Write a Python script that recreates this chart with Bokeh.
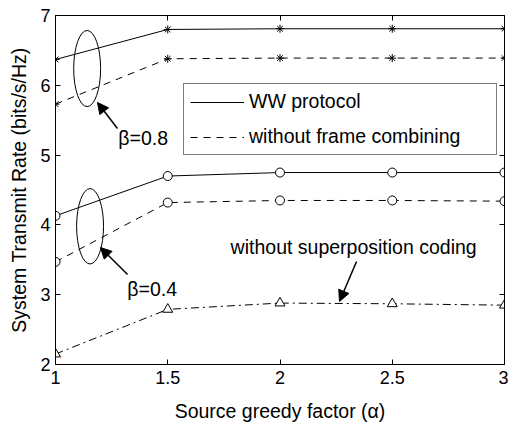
from bokeh.plotting import figure
from bokeh.models import (LinearAxis, Legend, LegendItem, Label, Arrow, NormalHead,
                          FixedTicker)
from bokeh.embed import file_html
from bokeh.resources import INLINE

# Source greedy factor values
alpha = [1.0, 1.5, 2.0, 2.5, 3.0]

# beta = 0.8
ww_b08 = [6.37, 6.80, 6.81, 6.81, 6.81]
nofc_b08 = [5.73, 6.38, 6.39, 6.39, 6.39]
# beta = 0.4
ww_b04 = [4.13, 4.70, 4.75, 4.75, 4.75]
nofc_b04 = [3.47, 4.32, 4.35, 4.35, 4.34]
# without superposition coding
nosc = [2.15, 2.79, 2.88, 2.87, 2.85]

x_ticks = [1, 1.5, 2, 2.5, 3]
y_ticks = [2, 3, 4, 5, 6, 7]

FONT = "Liberation Sans"
TICK_SIZE = "18px"
TEXT_SIZE = "19.5px"

p = figure(width=508, height=428, x_range=(1, 3), y_range=(2, 7),
           output_backend="svg", toolbar_location=None,
           min_border_left=55, min_border_right=4, min_border_top=15, min_border_bottom=64,
           frame_width=449, frame_height=349)
p.background_fill_color = "white"
p.border_fill_color = "white"
p.grid.visible = False
p.outline_line_color = "black"
p.outline_line_width = 1

def style_axis(ax):
    ax.major_tick_in = 5
    ax.major_tick_out = 0
    ax.minor_tick_in = 0
    ax.minor_tick_out = 0
    ax.axis_line_color = "black"
    ax.major_tick_line_color = "black"
    ax.major_label_text_font = FONT
    ax.major_label_text_font_size = TICK_SIZE
    ax.major_label_text_color = "black"
    ax.axis_label_text_font = FONT
    ax.axis_label_text_font_size = TEXT_SIZE
    ax.axis_label_text_font_style = "normal"
    ax.axis_label_text_color = "black"

p.xaxis.ticker = FixedTicker(ticks=x_ticks)
p.yaxis.ticker = FixedTicker(ticks=y_ticks)
for ax in p.xaxis + p.yaxis:
    style_axis(ax)
p.xaxis.axis_label = "Source greedy factor (α)"
p.yaxis.axis_label = "System Transmit Rate (bits/s/Hz)"
p.xaxis.major_label_standoff = 6
p.yaxis.major_label_standoff = 5
p.xaxis.axis_label_standoff = 13
p.yaxis.axis_label_standoff = 7

# mirrored tick marks on the top and right edges, without labels
top = LinearAxis(ticker=FixedTicker(ticks=x_ticks),
                 major_label_overrides={t: "" for t in x_ticks})
right = LinearAxis(ticker=FixedTicker(ticks=y_ticks),
                   major_label_overrides={t: "" for t in y_ticks})
for ax in (top, right):
    style_axis(ax)
    ax.major_label_standoff = 0
p.add_layout(top, "above")
p.add_layout(right, "right")

DASH = "7 6"
DASHDOT = "8 4 2 4"

r_ww = p.line(alpha, ww_b08, line_color="black", line_width=1)
p.scatter(alpha, ww_b08, marker="asterisk", size=8, line_color="black")
r_fc = p.line(alpha, nofc_b08, line_color="black", line_width=1, line_dash=DASH)
p.scatter(alpha, nofc_b08, marker="asterisk", size=8, line_color="black")

p.line(alpha, ww_b04, line_color="black", line_width=1)
p.scatter(alpha, ww_b04, marker="circle", size=9, line_color="black", fill_color="white")
p.line(alpha, nofc_b04, line_color="black", line_width=1, line_dash=DASH)
p.scatter(alpha, nofc_b04, marker="circle", size=9, line_color="black", fill_color="white")

p.line(alpha, nosc, line_color="black", line_width=1, line_dash=DASHDOT)
p.scatter(alpha, nosc, marker="triangle", size=10, line_color="black", fill_color="white")

# ellipses grouping the curves of each beta
p.ellipse(x=[1.141, 1.154], y=[6.24, 3.98], width=[0.12, 0.12], height=[1.09, 1.08],
          fill_color=None, line_color="black", line_width=1)

# annotation arrows
head = dict(size=11, fill_color="black", line_color="black")
p.add_layout(Arrow(end=NormalHead(**head), x_start=1.276, y_start=5.381,
                   x_end=1.187, y_end=5.754, line_width=1.5))
p.add_layout(Arrow(end=NormalHead(**head), x_start=1.321, y_start=3.289,
                   x_end=1.200, y_end=3.676, line_width=1.5))
p.add_layout(Arrow(end=NormalHead(**head), x_start=2.341, y_start=3.476,
                   x_end=2.265, y_end=2.903, line_width=1.5))

lab = dict(text_font=FONT, text_font_size=TEXT_SIZE, text_color="black",
           text_baseline="middle", text_align="left")
p.add_layout(Label(x=1.28, y=5.25, text="β=0.8", **lab))
p.add_layout(Label(x=1.32, y=3.075, text="β=0.4", **lab))
p.add_layout(Label(x=1.78, y=3.68, text="without superposition coding", **lab))

legend = Legend(items=[LegendItem(label="WW protocol", renderers=[r_ww]),
                       LegendItem(label="without frame combining", renderers=[r_fc])],
                location=(128, 209))
legend.label_text_font = FONT
legend.label_text_font_size = TEXT_SIZE
legend.label_text_color = "black"
legend.border_line_color = "black"
legend.border_line_width = 1
legend.background_fill_alpha = 1
legend.padding = 6
legend.margin = 0
legend.spacing = 12
legend.label_height = 22
legend.glyph_height = 22
legend.glyph_width = 54
legend.label_standoff = 5
legend.label_width = 241
p.add_layout(legend, "center")

open("out.html", "w").write(file_html(p, INLINE))
